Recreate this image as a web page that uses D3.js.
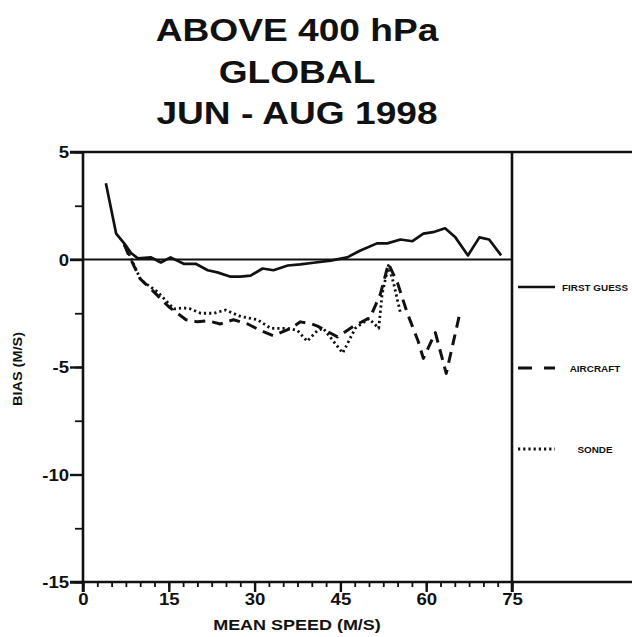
<!DOCTYPE html>
<html>
<head>
<meta charset="utf-8">
<script src="https://cdn.jsdelivr.net/npm/d3@7"></script>
<style>
  body { margin: 0; background: #fff; }
  text { font-family: "Liberation Sans", Arial, sans-serif; font-weight: bold; fill: #111; }
</style>
</head>
<body>
<svg></svg>
<script>
// values (speed in m/s, bias in m/s)
var firstGuessSpeed = [4, 5.8, 7.2, 8.4, 9.6, 11.9, 13.6, 15.3, 17.6, 19.7, 21.8, 23.5, 25.8, 27.5, 29.3, 31.4, 33.3, 35.8, 38, 40.3, 43.3, 46.2, 48.5, 51.4, 53.2, 55.5, 57.6, 59.5, 61.2, 63.3, 65.1, 67.3, 69.3, 71, 73.1];
var firstGuessBias = [3.55, 1.2, 0.75, 0.3, 0.05, 0.1, -0.14, 0.1, -0.2, -0.2, -0.5, -0.6, -0.8, -0.8, -0.75, -0.42, -0.5, -0.28, -0.23, -0.15, -0.05, 0.1, 0.42, 0.75, 0.75, 0.93, 0.85, 1.2, 1.27, 1.45, 1.03, 0.19, 1.03, 0.93, 0.19];

var aircraftSpeed = [7.2, 8, 10, 12, 15, 18, 20, 21.8, 24, 26.3, 28.8, 31, 33.3, 36.3, 38, 40, 41, 44.5, 47.3, 50.2, 52, 53.4, 55, 56.7, 58.6, 59.5, 61.6, 63.5, 65.8];
var aircraftBias = [0.7, 0.2, -0.9, -1.4, -2.2, -2.8, -2.9, -2.85, -3.0, -2.8, -3.0, -3.3, -3.55, -3.2, -2.9, -3.0, -3.1, -3.6, -3.1, -2.7, -1.6, -0.2, -1.1, -2.5, -3.8, -4.6, -3.4, -5.3, -2.6];

var sondeSpeed = [7.2, 8, 10.1, 13, 15.9, 17.6, 18.8, 20.6, 22.9, 24.9, 27.6, 30.5, 32.8, 35.7, 37.5, 39.2, 41, 42, 45.4, 47.6, 50, 51.7, 52.3, 53.4, 54.3, 55.5];
var sondeBias = [0.7, 0.28, -0.95, -1.5, -2.3, -2.25, -2.3, -2.5, -2.5, -2.35, -2.65, -2.8, -3.2, -3.2, -3.3, -3.8, -3.3, -3.2, -4.35, -3.2, -2.75, -3.2, -1.6, -0.28, -1.1, -2.5];

var xTicks = [0, 15, 30, 45, 60, 75];
var yTicks = [5, 0, -5, -10, -15];
var titleLines = ["ABOVE 400 hPa", "GLOBAL", "JUN - AUG 1998"];
var legendLabels = ["FIRST GUESS", "AIRCRAFT", "SONDE"];

var svgWidth = 632, svgHeight = 637;
var wide = 1.16; // the original lettering is wider than Liberation Sans

var svg = d3.select('svg')
    .attr("width", svgWidth)
    .attr("height", svgHeight);

var xScale = d3.scaleLinear()
    .domain([0, 75])
    .range([83, 512]);
var yScale = d3.scaleLinear()
    .domain([-15, 5])
    .range([582, 152]);

// title
svg.selectAll(".title")
    .data(titleLines)
    .enter()
    .append("text")
    .attr("class", "title")
    .attr("transform", function(d, i){
        return "translate(297," + (41 + i * 41.5) + ") scale(" + wide + ",1)";
    })
    .attr("text-anchor", "middle")
    .style("font-size", "32px")
    .text(function(d){ return d; });

// x axis: minor ticks every 2.5, major labelled every 15
var xMinor = d3.axisBottom(xScale)
    .tickValues(d3.range(0, 75.1, 2.5))
    .tickSize(5)
    .tickFormat("");
svg.append("g")
    .attr("transform", "translate(0," + yScale(-15) + ")")
    .call(xMinor);

var xMajor = d3.axisBottom(xScale)
    .tickValues(xTicks)
    .tickSize(10)
    .tickPadding(2)
    .tickFormat(function(d){ return String(d); });
svg.append("g")
    .attr("class", "xmajor")
    .attr("transform", "translate(0," + yScale(-15) + ")")
    .call(xMajor);

// y axis
var yMinor = d3.axisLeft(yScale)
    .tickValues(d3.range(-15, 5.1, 2.5))
    .tickSize(8)
    .tickFormat("");
svg.append("g")
    .attr("transform", "translate(" + xScale(0) + ",0)")
    .call(yMinor);

var yMajor = d3.axisLeft(yScale)
    .tickValues(yTicks)
    .tickSize(13)
    .tickPadding(0)
    .tickFormat(function(d){ return String(d); });
svg.append("g")
    .attr("class", "ymajor")
    .attr("transform", "translate(" + xScale(0) + ",0)")
    .call(yMajor);

svg.selectAll(".domain").remove();
svg.selectAll(".tick line")
    .attr("stroke", "#111")
    .attr("stroke-width", 1.8);
svg.selectAll(".xmajor .tick line, .ymajor .tick line").attr("stroke-width", 2.4);
svg.selectAll(".tick text")
    .style("font-size", "16px")
    .style("font-family", "'Liberation Sans', Arial, sans-serif")
    .style("font-weight", "bold")
    .attr("fill", "#111");
svg.selectAll(".xmajor .tick text")
    .attr("transform", "scale(" + wide + ",1)");
svg.selectAll(".ymajor .tick text")
    .attr("dy", "0.36em")
    .attr("x", -12)
    .attr("transform", "scale(" + wide + ",1)");

// frame
var frame = svg.append("g")
    .attr("stroke", "#111")
    .attr("stroke-width", 2.6)
    .attr("fill", "none");
frame.append("line")   // top
    .attr("x1", xScale(0) - 13).attr("x2", svgWidth)
    .attr("y1", yScale(5)).attr("y2", yScale(5));
frame.append("line")   // bottom
    .attr("x1", xScale(0) - 13).attr("x2", svgWidth)
    .attr("y1", yScale(-15)).attr("y2", yScale(-15));
frame.append("line")   // left axis
    .attr("x1", xScale(0)).attr("x2", xScale(0))
    .attr("y1", yScale(5)).attr("y2", yScale(-15) + 10);
frame.append("line")   // right divider
    .attr("x1", xScale(75)).attr("x2", xScale(75))
    .attr("y1", yScale(5)).attr("y2", yScale(-15) + 10);
frame.append("line")   // zero line
    .attr("x1", xScale(0) - 13).attr("x2", xScale(75))
    .attr("y1", yScale(0)).attr("y2", yScale(0))
    .attr("stroke-width", 2.2);

// axis titles
svg.append("text")
    .attr("transform", "translate(297,630) scale(" + wide + ",1)")
    .attr("text-anchor", "middle")
    .style("font-size", "15.5px")
    .text("MEAN SPEED (M/S)");

svg.append("text")
    .attr("transform", "translate(22,369) rotate(-90) scale(" + wide + ",1)")
    .attr("text-anchor", "middle")
    .style("font-size", "12.5px")
    .text("BIAS (M/S)");

// series
var line = d3.line()
    .x(function(d){ return xScale(d[0]); })
    .y(function(d){ return yScale(d[1]); });

var series = [
    { speed: firstGuessSpeed, bias: firstGuessBias, dash: null, width: 2.7 },
    { speed: aircraftSpeed, bias: aircraftBias, dash: "11,7", width: 3 },
    { speed: sondeSpeed, bias: sondeBias, dash: "2.2,3", width: 2.8 }
];

svg.selectAll(".series")
    .data(series)
    .enter()
    .append("path")
    .attr("class", "series")
    .attr("d", function(s){
        return line(d3.zip(s.speed, s.bias));
    })
    .attr("fill", "none")
    .attr("stroke", "#111")
    .attr("stroke-width", function(s){ return s.width; })
    .attr("stroke-dasharray", function(s){ return s.dash; })
    .attr("stroke-linejoin", "round");

// legend
var legendY = [287, 368, 449];
var legend = svg.selectAll(".legend")
    .data(legendLabels)
    .enter()
    .append("g")
    .attr("class", "legend")
    .attr("transform", function(d, i){ return "translate(0," + legendY[i] + ")"; });

legend.append("line")
    .attr("x1", 518).attr("x2", 555)
    .attr("y1", 0).attr("y2", 0)
    .attr("stroke", "#111")
    .attr("stroke-width", function(d, i){ return series[i].width; })
    .attr("stroke-dasharray", function(d, i){ return i == 1 ? "14,12" : series[i].dash; });

legend.append("text")
    .attr("transform", "translate(595,3.5) scale(1.1,1)")
    .attr("text-anchor", "middle")
    .style("font-size", "9px")
    .text(function(d){ return d; });
</script>
</body>
</html>
